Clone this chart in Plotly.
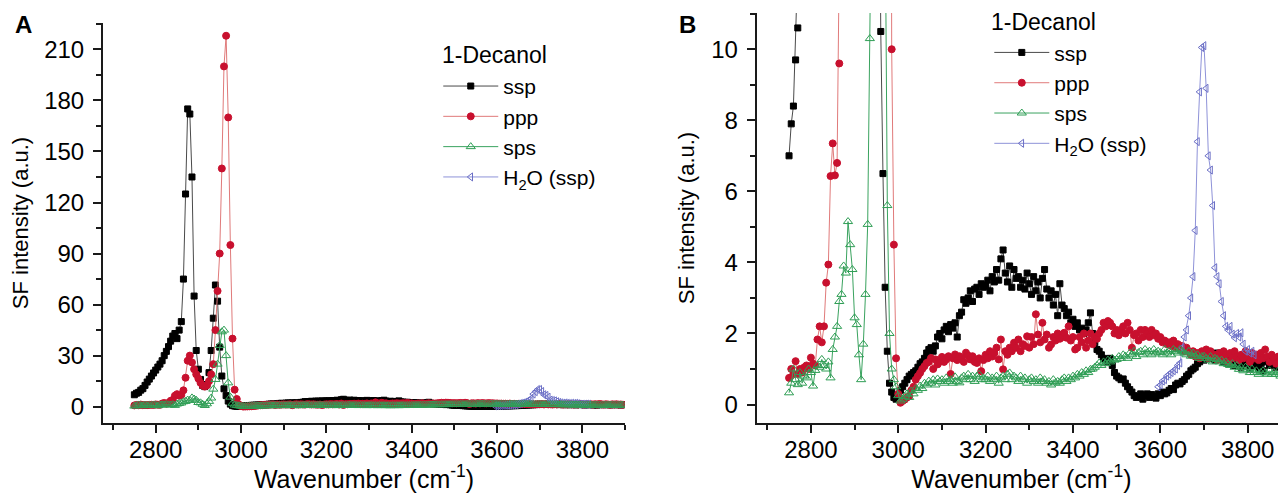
import plotly.graph_objects as go

# --- Data: SFG spectra of 1-decanol ---
# Wavenumber grid (cm-1) shared by the three polarisation spectra
WAVENUMBER = list(range(2750, 3900, 5))

SSP = [
    7.0, 7.9, 8.4, 9.7, 10.6, 12.5, 14.5, 16.2, 18.0, 19.8,
    21.5, 23.3, 25.0, 27.0, 30.0, 32.5, 35.3, 38.5, 41.5, 43.0,
    40.0, 45.0, 50.0, 75.0, 125.0, 175.0, 172.0, 135.0, 65.0, 33.0,
    22.0, 16.0, 12.5, 11.8, 13.0, 20.0, 33.0, 52.0, 71.5, 62.0,
    35.0, 18.0, 10.5, 6.5, 3.3, 1.5, 0.6, 0.35, 0.2, 0.15,
    0.25, 0.4, 0.5, 0.6, 0.7, 0.8, 0.85, 0.9, 0.95, 1.05,
    1.15, 1.2, 1.3, 1.45, 1.55, 1.6, 1.5, 1.65, 1.9, 2.0,
    1.85, 2.1, 2.2, 2.05, 2.25, 2.15, 2.3, 1.9, 2.5, 2.6,
    2.95, 2.85, 3.0, 3.2, 2.9, 3.25, 3.3, 3.1, 3.4, 3.3,
    3.35, 3.5, 3.2, 3.6, 3.45, 3.8, 3.5, 4.1, 4.35, 3.7,
    3.45, 3.9, 3.3, 3.8, 3.55, 3.6, 3.3, 3.5, 3.25, 3.7,
    3.4, 3.1, 3.6, 3.2, 3.45, 3.0, 3.55, 3.8, 3.25, 3.0,
    3.2, 2.8, 3.1, 2.5, 3.4, 2.8, 2.7, 2.5, 2.6, 2.3,
    2.4, 2.2, 2.3, 2.1, 2.15, 2.0, 2.1, 2.3, 2.58, 2.0,
    1.74, 1.55, 1.5, 1.4, 1.3, 1.27, 1.2, 1.3, 1.1, 0.9,
    0.8, 0.75, 0.7, 0.72, 0.6, 0.5, 0.42, 0.35, 0.25, 0.2,
    0.22, 0.3, 0.15, 0.25, 0.3, 0.2, 0.28, 0.22, 0.18, 0.3,
    0.25, 0.35, 0.3, 0.33, 0.4, 0.45, 0.42, 0.55, 0.6, 0.58,
    0.65, 0.7, 0.8, 0.85, 0.95, 1.0, 1.05, 1.15, 1.2, 1.3,
    1.25, 1.3, 1.35, 1.3, 1.4, 1.25, 1.45, 1.3, 1.35, 1.2,
    1.3, 1.15, 1.25, 1.2, 1.1, 1.3, 1.2, 1.05, 1.25, 1.15,
    1.3, 1.0, 1.2, 1.1, 1.27, 1.0, 1.15, 0.95, 1.2, 1.3,
    1.1, 1.25, 1.2, 1.05, 1.15, 1.3, 1.1, 1.2, 1.0, 1.15,
]

PPP = [
    0.75, 1.0, 0.85, 1.22, 0.86, 1.0, 0.9, 1.05, 1.1, 1.0,
    1.32, 1.15, 1.1, 1.83, 2.2, 1.75, 2.2, 3.43, 3.94, 6.43,
    7.35, 6.45, 6.8, 9.6, 17.0, 27.0, 30.0, 26.0, 22.0, 19.0,
    16.5, 14.0, 12.5, 11.8, 12.5, 15.0, 19.0, 25.0, 45.0, 68.0,
    90.0, 140.0, 200.0, 218.0, 170.0, 95.0, 40.0, 10.0, 4.5, 1.3,
    0.3, 0.05, 0.1, 0.14, 0.2, 0.23, 0.4, 0.5, 0.7, 0.8,
    0.89, 1.0, 1.08, 1.17, 1.2, 1.31, 1.0, 1.27, 1.13, 1.2,
    1.34, 1.2, 1.27, 1.36, 0.86, 1.3, 1.41, 1.25, 1.36, 1.3,
    1.2, 1.46, 1.38, 1.27, 1.36, 1.2, 1.17, 1.3, 0.94, 1.25,
    1.4, 1.3, 1.5, 1.35, 1.45, 1.6, 1.27, 1.83, 0.99, 1.5,
    1.4, 1.6, 1.5, 1.74, 1.6, 1.83, 1.5, 1.7, 1.65, 1.92,
    1.6, 1.9, 1.7, 2.54, 1.97, 1.75, 2.3, 1.83, 1.97, 1.6,
    1.69, 1.9, 1.8, 2.0, 1.85, 1.9, 2.02, 1.88, 2.2, 1.8,
    1.9, 1.55, 1.6, 1.9, 1.75, 2.0, 1.6, 1.8, 2.0, 1.7,
    1.9, 1.85, 2.0, 2.1, 2.3, 2.2, 2.35, 2.3, 2.2, 2.0,
    2.1, 1.95, 2.1, 2.2, 2.0, 2.3, 2.1, 1.6, 1.95, 2.0,
    1.8, 2.1, 1.9, 2.1, 2.0, 1.9, 2.1, 1.95, 2.0, 1.85,
    1.9, 1.75, 1.8, 1.7, 1.75, 1.65, 1.8, 1.6, 1.7, 1.55,
    1.65, 1.5, 1.6, 1.5, 1.4, 1.5, 1.35, 1.45, 1.3, 1.5,
    1.4, 1.55, 1.3, 1.5, 1.35, 1.4, 1.25, 1.45, 1.3, 1.5,
    1.4, 1.2, 1.45, 1.3, 1.5, 1.35, 1.25, 1.4, 1.3, 1.5,
    1.35, 1.2, 1.45, 1.3, 1.4, 1.25, 1.45, 1.3, 1.55, 1.35,
    1.2, 1.4, 1.3, 1.15, 1.35, 1.25, 1.4, 1.2, 1.3, 1.15,
]

SPS = [
    0.33, 0.6, 1.0, 0.7, 0.56, 0.9, 0.6, 0.8, 0.75, 1.0,
    0.9, 0.52, 0.96, 1.1, 1.05, 1.27, 1.1, 1.0, 1.2, 0.75,
    1.55, 1.9, 2.2, 2.9, 3.1, 3.9, 3.7, 5.15, 4.5, 3.8,
    2.44, 2.25, 1.4, 0.7, 1.7, 3.1, 5.07, 10.3, 16.0, 25.0,
    36.0, 44.0, 45.0, 30.0, 14.0, 5.6, 2.0, 1.0, 0.7, 0.5,
    0.25, 0.1, 0.15, 0.23, 0.3, 0.2, 0.38, 0.3, 0.45, 0.4,
    0.52, 0.45, 0.6, 0.55, 0.66, 0.6, 0.7, 0.55, 0.72, 0.65,
    0.7, 0.6, 0.75, 0.65, 0.7, 0.6, 0.78, 0.65, 0.61, 0.75,
    0.8, 0.7, 0.85, 0.7, 0.8, 0.65, 0.8, 0.85, 0.7, 0.75,
    0.7, 0.8, 0.65, 0.75, 0.7, 0.8, 0.6, 0.75, 0.8, 0.7,
    0.85, 0.89, 0.7, 0.8, 0.75, 0.65, 0.8, 0.7, 0.75, 0.6,
    0.7, 0.75, 0.65, 0.7, 0.6, 0.75, 0.65, 0.7, 0.6, 0.65,
    0.55, 0.7, 0.61, 0.65, 0.6, 0.7, 0.75, 0.65, 0.75, 0.7,
    0.8, 0.75, 0.85, 0.8, 0.9, 0.85, 0.95, 0.9, 0.99, 1.0,
    1.05, 1.1, 1.17, 1.1, 1.2, 1.15, 1.25, 1.2, 1.3, 1.25,
    1.27, 1.35, 1.3, 1.4, 1.36, 1.3, 1.45, 1.4, 1.5, 1.35,
    1.46, 1.5, 1.4, 1.55, 1.45, 1.5, 1.4, 1.55, 1.45, 1.5,
    1.46, 1.4, 1.55, 1.45, 1.5, 1.4, 1.55, 1.5, 1.45, 1.55,
    1.5, 1.45, 1.4, 1.5, 1.36, 1.45, 1.35, 1.4, 1.3, 1.35,
    1.36, 1.3, 1.25, 1.35, 1.2, 1.3, 1.27, 1.2, 1.25, 1.15,
    1.2, 1.13, 1.1, 1.15, 1.05, 1.1, 0.99, 1.05, 0.95, 1.05,
    0.99, 0.9, 1.0, 0.9, 0.95, 0.85, 0.9, 0.95, 0.89, 0.85,
    0.95, 0.85, 0.9, 0.85, 0.95, 0.8, 0.9, 0.85, 0.95, 0.9,
]

# Neat water reference only covers the free-OH region
H2O_WAVENUMBER = list(range(3595, 3820, 5))
H2O_SSP = [
    0.5, 0.55, 0.66, 0.7, 0.8, 0.85, 0.9, 0.95, 1.0, 1.1,
    1.17, 1.6, 1.9, 2.1, 2.5, 3.0, 3.6, 4.9, 7.4, 8.8,
    10.05, 10.1, 8.9, 7.0, 6.6, 5.6, 3.85, 3.6, 3.4, 2.9,
    2.5, 2.2, 2.1, 2.2, 1.98, 1.88, 2.0, 1.9, 2.02, 1.7,
    1.5, 1.55, 1.45, 1.5, 1.4,
]

# --- Styles (drawing order: ssp, ppp, H2O, sps; legend order via rank) ---
SERIES = [
    dict(name='ssp', x=WAVENUMBER, y=SSP, symbol='square', size=6,
         marker='#000000', line='#4a4a4a', rank=1),
    dict(name='ppp', x=WAVENUMBER, y=PPP, symbol='circle', size=7,
         marker='#c8102e', line='#e07a7a', rank=2),
    dict(name='H<sub>2</sub>O (ssp)', x=H2O_WAVENUMBER, y=H2O_SSP,
         symbol='triangle-left-open', size=7, marker='#6b6fc6', line='#8e92d8', rank=4),
    dict(name='sps', x=WAVENUMBER, y=SPS, symbol='triangle-up-open', size=8,
         marker='#2f9e55', line='#3aa35f', rank=3),
]

FONT = "Liberation Sans, Arial, sans-serif"
AXIS_COLOR = '#1a1a1a'


def add_panel(fig, xref, yref, legend_name):
    """Adds all spectra to one panel."""
    for s in SERIES:
        fig.add_trace(go.Scatter(
            x=s['x'], y=s['y'], name=s['name'],
            mode='lines+markers',
            xaxis=xref, yaxis=yref, legend=legend_name, legendrank=s['rank'],
            line=dict(color=s['line'], width=1),
            marker=dict(symbol=s['symbol'], size=s['size'], color=s['marker'],
                        line=dict(color=s['marker'], width=1)),
        ))


def axis_style(**extra):
    base = dict(
        showline=True, linecolor=AXIS_COLOR, linewidth=2, mirror=False,
        ticks='outside', ticklen=8, tickwidth=1.5, tickcolor=AXIS_COLOR,
        showgrid=False, zeroline=False, automargin=False,
        tickfont=dict(family=FONT, size=24, color='#000'),
    )
    base.update(extra)
    return base


def text_label(text, x, y, xanchor='left', size=23, bold=False):
    return dict(text=f'<b>{text}</b>' if bold else text, x=x, y=y,
                xref='paper', yref='paper', xanchor=xanchor, yanchor='middle',
                showarrow=False, font=dict(family=FONT, size=size, color='#000'))


fig = go.Figure()
add_panel(fig, 'x', 'y', 'legend')
add_panel(fig, 'x2', 'y2', 'legend2')

x_title = dict(text='Wavenumber (cm<sup>-1</sup>)', font=dict(family=FONT, size=25, color='#000'), standoff=8)
y_title = dict(text='SF intensity (a.u.)', font=dict(family=FONT, size=22, color='#000'), standoff=11)
x_minor = dict(ticks='outside', ticklen=5, tickwidth=1.5, tickcolor=AXIS_COLOR, dtick=100)

# legend titles are drawn as annotations so the boxes stay inside the page
legend_style = dict(
    font=dict(family=FONT, size=21, color='#000'),
    bgcolor='rgba(0,0,0,0)', itemwidth=55, tracegroupgap=0,
    xanchor='left', yanchor='top',
)

# the page body adds an 8 px offset, so the figure is 8 px smaller than the window
fig.update_layout(
    width=1278, height=485,
    margin=dict(l=95, r=0, t=5, b=70),
    paper_bgcolor='white', plot_bgcolor='white',
    showlegend=True,
    xaxis=axis_style(domain=[0, 0.4413], range=[2676.5, 3900], tick0=2800, dtick=200,
                     minor=x_minor, title=x_title, anchor='y', ticklabelstandoff=-4),
    yaxis=axis_style(domain=[0, 0.9756], range=[-9.6, 225.5], tick0=0, dtick=30,
                     minor=dict(ticks='outside', ticklen=5, tickwidth=1.5, tickcolor=AXIS_COLOR, dtick=15),
                     title=y_title, anchor='x', ticklabelstandoff=4),
    xaxis2=axis_style(domain=[0.5526, 1.0], range=[2676, 3887.7], tick0=2800, dtick=200,
                      minor=x_minor, title=x_title, anchor='y2', ticklabelstandoff=-4),
    yaxis2=axis_style(domain=[0, 1.0], range=[-0.52, 11.02], tick0=0, dtick=2,
                      minor=dict(ticks='outside', ticklen=5, tickwidth=1.5, tickcolor=AXIS_COLOR, dtick=1),
                      title=y_title, anchor='x2', ticklabelstandoff=4),
    legend=dict(legend_style, x=0.2834, y=0.871),
    legend2=dict(legend_style, x=0.7492, y=0.953),
    annotations=[
        text_label('A', -0.076, 0.973, size=24, bold=True),
        text_label('B', 0.4945, 0.973, xanchor='center', size=24, bold=True),
        text_label('1-Decanol', 0.2849, 0.8976),
        text_label('1-Decanol', 0.749, 0.978),
    ],
)

fig.write_html("out.html")
